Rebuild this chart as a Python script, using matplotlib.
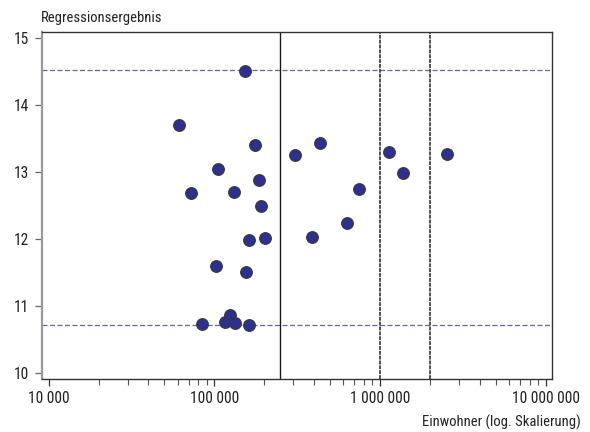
import matplotlib
matplotlib.use("Agg")
import matplotlib.pyplot as plt
from matplotlib.ticker import FixedLocator, LogLocator, NullFormatter
from matplotlib import font_manager
from matplotlib.font_manager import FontProperties

# Data: population (inhabitants) and regression result per city
einwohner = [61100, 176600, 105000, 186600, 72600, 130600, 191000, 161000,
             203000, 102000, 154600, 631000, 306000, 437000, 388000, 743000,
             1130000, 1370000, 2520000, 83700, 124000, 116000, 133600,
             161800, 153500]
ergebnis = [13.70, 13.40, 13.05, 12.88, 12.69, 12.70, 12.49, 11.98,
            12.01, 11.59, 11.50, 12.23, 13.25, 13.43, 12.02, 12.74,
            13.29, 12.98, 13.27, 10.73, 10.86, 10.755, 10.74,
            10.705, 14.51]

# Reference lines
grenzen_solid = [250000]
grenzen_grau = [1000000, 2000000]
band = [10.71, 14.52]

x_ticks = [1e4, 1e5, 1e6, 1e7]
x_ticklabels = ["10 000", "100 000", "1 000 000", "10 000 000"]
y_ticks = [10, 11, 12, 13, 14, 15]


def pick_font():
    """Prefer a narrow/condensed sans face; fall back to a regular one."""
    entries = font_manager.fontManager.ttflist
    def regular(f):
        return f.style == "normal" and f.weight in (400, "normal", "regular", "book")
    for key in ["Liberation Sans Narrow", "Roboto Condensed", "Open Sans Condensed",
                "Noto Sans Condensed", "DejaVu Sans Condensed"]:
        for f in entries:
            if f.name == key and regular(f):
                return f.fname, True
    for f in entries:
        if regular(f) and f.stretch in ("condensed", "semi-condensed") \
                and f.name in ("DejaVu Sans", "Noto Sans", "Open Sans", "Roboto"):
            return f.fname, True
    for f in entries:
        if regular(f) and ("Condensed" in f.name or "Narrow" in f.name) \
                and "Mono" not in f.name and "Serif" not in f.name:
            return f.fname, True
    return None, False


fname, narrow = pick_font()


def font(size):
    if fname:
        return FontProperties(fname=fname, size=size)
    return FontProperties(family="Roboto", size=size - 1.5)


fp_tick = font(11.2)
fp_label = font(10.5)

fig = plt.figure(figsize=(5.9, 4.32), dpi=100)
ax = fig.add_axes([0.0712, 0.1227, 0.8644, 0.8032])

ax.set_xscale("log")
ax.set_xlim(10 ** 3.96, 10 ** 7.038)
ax.set_ylim(9.905, 15.09)

for v in band:
    ax.axhline(v, color="#6a62a8", lw=0.9, ls=(0, (4, 2)), zorder=1)
for v in grenzen_solid:
    ax.axvline(v, color="#1a1a1a", lw=1.0, zorder=1)
for v in grenzen_grau:
    ax.axvline(v, color="#505050", lw=1.4, ls=(0, (2.0, 0.5)), zorder=1)

ax.scatter(einwohner, ergebnis, s=70, c="#2b3092", edgecolors="#3a3a3a",
           linewidths=0.9, zorder=3)

ax.xaxis.set_major_locator(FixedLocator(x_ticks))
ax.set_xticklabels(x_ticklabels, fontproperties=fp_tick, color="#222222")
ax.xaxis.set_minor_locator(LogLocator(base=10, subs=range(2, 10)))
ax.xaxis.set_minor_formatter(NullFormatter())
ax.set_yticks(y_ticks)
ax.set_yticklabels([str(v) for v in y_ticks], fontproperties=fp_tick,
                   color="#222222")

ax.tick_params(axis="x", which="major", direction="out", length=5,
               width=0.9, color="#333333", pad=4)
ax.tick_params(axis="x", which="minor", direction="out", length=4,
               width=0.8, color="#555555")
ax.tick_params(axis="y", direction="out", length=5, width=0.9,
               color="#666666", pad=4)

for side in ["top", "right", "bottom"]:
    ax.spines[side].set_color("#333333")
    ax.spines[side].set_linewidth(1.0)
ax.spines["left"].set_color("#9a9a9a")
ax.spines["left"].set_linewidth(1.6)

fig.text(0.069, 0.958, "Regressionsergebnis", ha="left", va="center",
         fontproperties=fp_label, color="#222222")
fig.text(0.984, 0.0116, "Einwohner (log. Skalierung)", ha="right",
         va="baseline", fontproperties=fp_label, color="#222222")

fig.savefig("out.png", dpi=100)
